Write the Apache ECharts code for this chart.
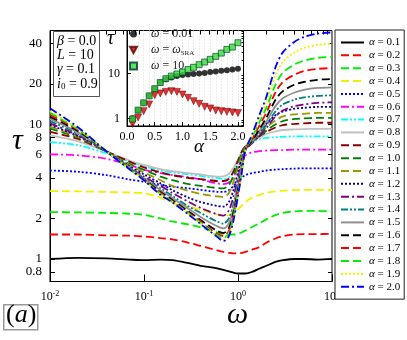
<!DOCTYPE html>
<html>
<head>
<meta charset="utf-8">
<script src="https://cdn.jsdelivr.net/npm/echarts@6/dist/echarts.min.js"></script>
<style>
  html, body { margin: 0; padding: 0; background: #fff; }
  #chart { width: 407px; height: 340px; }
</style>
</head>
<body>
<div id="chart"></div>
<script>
const omega = [0.01, 0.02, 0.04, 0.07, 0.1, 0.15, 0.2, 0.3, 0.4, 0.5, 0.6, 0.7, 0.8, 0.9, 1.0, 1.1, 1.2, 1.4, 1.7, 2, 2.5, 3, 4, 5, 7, 10];
const alphas = ['0.1', '0.2', '0.3', '0.4', '0.5', '0.6', '0.7', '0.8', '0.9', '1.0', '1.1', '1.2', '1.3', '1.4', '1.5', '1.6', '1.7', '1.8', '1.9', '2.0'];

// tau(omega) for each alpha
const tauA01 = [1.0, 1.02, 1.01, 0.99, 0.98, 0.99, 0.98, 0.93, 0.89, 0.87, 0.85, 0.83, 0.81, 0.79, 0.78, 0.78, 0.78, 0.80, 0.85, 0.89, 0.95, 0.98, 1.0, 1.0, 0.99, 1.0];
const tauA02 = [1.52, 1.52, 1.50, 1.49, 1.47, 1.43, 1.40, 1.32, 1.25, 1.20, 1.16, 1.13, 1.11, 1.10, 1.10, 1.11, 1.13, 1.17, 1.23, 1.32, 1.42, 1.48, 1.52, 1.53, 1.53, 1.54];
const tauA03 = [2.23, 2.22, 2.20, 2.17, 2.13, 2.0, 1.9, 1.8, 1.72, 1.64, 1.58, 1.54, 1.52, 1.52, 1.54, 1.58, 1.63, 1.72, 1.85, 1.97, 2.12, 2.2, 2.26, 2.28, 2.28, 2.25];
const tauA04 = [3.2, 3.18, 3.15, 3.12, 3.08, 2.85, 2.65, 2.45, 2.32, 2.22, 2.15, 2.1, 2.12, 2.2, 2.33, 2.5, 2.65, 2.85, 3.0, 3.1, 3.18, 3.22, 3.25, 3.27, 3.27, 3.25];
const tauA05 = [4.55, 4.45, 4.2, 3.9, 3.75, 3.55, 3.45, 3.35, 3.27, 3.2, 3.16, 3.15, 3.25, 3.5, 3.8, 4.05, 4.2, 4.35, 4.45, 4.55, 4.62, 4.66, 4.7, 4.72, 4.72, 4.72];
const tauA06 = [6.0, 5.9, 5.55, 5.0, 4.6, 4.35, 4.2, 4.05, 3.9, 3.75, 3.65, 3.6, 3.7, 4.1, 4.8, 5.5, 5.9, 6.2, 6.35, 6.4, 6.45, 6.45, 6.5, 6.5, 6.5, 6.5];
const tauA07 = [7.4, 7.0, 6.1, 5.3, 4.9, 4.55, 4.4, 4.25, 4.15, 4.05, 4.0, 3.95, 4.05, 4.5, 5.3, 6.1, 6.8, 7.4, 7.8, 7.95, 8.05, 8.1, 8.15, 8.15, 8.15, 8.15];
const tauA08 = [8.3, 7.5, 6.3, 5.4, 5.0, 4.65, 4.5, 4.35, 4.25, 4.15, 4.1, 4.12, 4.3, 4.8, 5.5, 6.3, 6.9, 7.5, 8.0, 8.5, 8.9, 9.1, 9.2, 9.25, 9.27, 9.27];
const tauA09 = [8.8, 7.8, 6.3, 5.3, 4.8, 4.4, 4.2, 4.0, 3.92, 3.85, 3.8, 3.8, 3.95, 4.5, 5.4, 6.3, 6.9, 7.5, 8.2, 8.8, 9.5, 9.9, 10.1, 10.2, 10.3, 10.3];
const tauA10 = [9.3, 8.0, 6.3, 5.1, 4.6, 4.1, 3.85, 3.6, 3.5, 3.42, 3.37, 3.35, 3.55, 4.2, 5.1, 6.1, 6.8, 7.4, 8.2, 9.0, 10.0, 10.6, 11.0, 11.1, 11.2, 11.2];
const tauA11 = [9.6, 8.1, 6.3, 5.0, 4.4, 3.85, 3.5, 3.2, 3.05, 2.97, 2.92, 2.9, 3.1, 3.8, 4.8, 5.9, 6.7, 7.4, 8.5, 9.5, 10.7, 11.5, 11.9, 12.0, 12.2, 12.2];
const tauA12 = [9.9, 8.2, 6.3, 4.9, 4.25, 3.65, 3.25, 2.85, 2.65, 2.55, 2.48, 2.45, 2.65, 3.3, 4.4, 5.6, 6.6, 7.5, 8.8, 10.1, 11.7, 12.5, 13.1, 13.3, 13.5, 13.5];
const tauA13 = [10.2, 8.3, 6.3, 4.8, 4.1, 3.5, 3.1, 2.65, 2.4, 2.25, 2.15, 2.1, 2.3, 2.95, 4.0, 5.3, 6.5, 7.2, 8.3, 9.4, 11.5, 12.7, 13.7, 14.1, 14.5, 14.6];
const tauA14 = [10.6, 8.5, 6.3, 4.8, 4.0, 3.35, 2.95, 2.45, 2.2, 2.02, 1.9, 1.83, 2.0, 2.6, 3.7, 5.0, 6.5, 7.3, 8.6, 9.9, 12.5, 14.1, 15.3, 15.9, 16.3, 16.5];
const tauA15 = [11.0, 8.7, 6.3, 4.75, 3.95, 3.25, 2.85, 2.35, 2.05, 1.87, 1.75, 1.69, 1.85, 2.4, 3.5, 4.9, 6.5, 7.4, 9.0, 10.5, 13.7, 15.7, 17.3, 18.1, 18.7, 18.9];
const tauA16 = [11.4, 8.9, 6.3, 4.7, 3.9, 3.15, 2.75, 2.25, 1.95, 1.75, 1.62, 1.56, 1.7, 2.25, 3.3, 4.7, 6.5, 7.5, 9.3, 11.2, 15.2, 17.7, 19.8, 20.7, 21.5, 21.8];
const tauA17 = [11.8, 9.1, 6.3, 4.7, 3.88, 3.1, 2.7, 2.2, 1.9, 1.68, 1.54, 1.48, 1.62, 2.15, 3.15, 4.6, 6.5, 7.7, 9.9, 12.2, 17.3, 20.7, 23.5, 24.9, 25.9, 26.3];
const tauA18 = [12.2, 9.2, 6.3, 4.68, 3.86, 3.05, 2.67, 2.17, 1.86, 1.64, 1.5, 1.43, 1.57, 2.07, 3.05, 4.55, 6.5, 7.9, 10.5, 13.3, 19.7, 24.3, 28.0, 29.8, 31.3, 31.8];
const tauA19 = [12.6, 9.3, 6.3, 4.66, 3.85, 3.02, 2.65, 2.15, 1.84, 1.62, 1.47, 1.39, 1.52, 2.02, 3.0, 4.5, 6.5, 8.1, 11.2, 14.7, 23.1, 29.3, 34.4, 37.0, 39.1, 39.8];
const tauA20 = [13.2, 9.5, 6.3, 4.65, 3.84, 3.0, 2.64, 2.13, 1.82, 1.61, 1.46, 1.36, 1.48, 1.97, 2.95, 4.45, 6.5, 8.3, 11.9, 16.0, 26.5, 34.4, 41.2, 44.7, 47.4, 48.4];
const tauCurves = [tauA01, tauA02, tauA03, tauA04, tauA05, tauA06, tauA07, tauA08, tauA09, tauA10,
                   tauA11, tauA12, tauA13, tauA14, tauA15, tauA16, tauA17, tauA18, tauA19, tauA20];

// inset: tau vs alpha
const alphaInset = [0.1, 0.2, 0.3, 0.4, 0.5, 0.6, 0.7, 0.8, 0.9, 1.0, 1.1, 1.2, 1.3, 1.4, 1.5, 1.6, 1.7, 1.8, 1.9, 2.0];
const tauLow = [1.0, 1.52, 2.23, 3.2, 4.6, 6.3, 7.5, 8.2, 8.8, 9.3, 9.6, 9.8, 10.0, 10.3, 10.8, 11.1, 11.5, 11.8, 12.3, 12.9];
const tauSRA = [0.75, 1.05, 1.45, 2.05, 3.3, 3.6, 3.9, 4.05, 3.9, 3.4, 2.87, 2.42, 2.11, 1.81, 1.67, 1.5, 1.45, 1.4, 1.36, 1.31];
const tauHigh = [0.97, 1.53, 2.22, 3.18, 4.6, 6.3, 7.7, 8.8, 9.8, 10.8, 12.3, 13.8, 15.8, 18.1, 20.8, 24.2, 28.7, 34.7, 39, 48.9];

// tick labels
const xTicks = [0.01, 0.1, 1, 10];
const xMinor = [0.02, 0.03, 0.04, 0.05, 0.06, 0.07, 0.08, 0.09, 0.2, 0.3, 0.4, 0.5, 0.6, 0.7, 0.8, 0.9, 2, 3, 4, 5, 6, 7, 8, 9];
const yTicks = [0.8, 1, 2, 4, 6, 8, 10, 20, 40];
const insetXTicks = [0, 0.5, 1.0, 1.5, 2.0];
const insetXLabels = ['0.0', '0.5', '1.0', '1.5', '2.0'];
const insetYTicks = [1, 10];
const insetYMinor = [0.7, 0.8, 0.9, 2, 3, 4, 5, 6, 7, 8, 9, 20, 30, 40, 50, 60, 70, 80, 90];

// line styles
const lineColors = ['#000000', '#ff0000', '#00ee00', '#f0f000', '#0000ff', '#ff00ff', '#00ffff', '#c0c0c0', '#8b0000', '#008000',
                    '#999900', '#0000a0', '#800080', '#008080', '#909090', '#000000', '#ff0000', '#00ee00', '#f0f000', '#0000ff'];
const dash = [8, 4], dot = [2, 2], dashDot = [8, 3, 2, 3], dashDotDot = [7, 2, 2, 2, 2, 2];
const lineTypes = ['solid', dash, dash, dash, dot, dashDot, dashDotDot, 'solid', dash, dash,
                   dash, dot, dashDot, dashDotDot, 'solid', dash, dash, dash, dot, dashDot];

const serif = '"Liberation Serif", "DejaVu Serif", serif';
const chart = echarts.init(document.getElementById('chart'));

let series = [];
for (let k = 0; k < alphas.length; k++) {
  series.push({
    name: alphas[k],
    type: 'line',
    xAxisIndex: 0,
    yAxisIndex: 0,
    symbol: 'none',
    smooth: 0.3,
    data: omega.map((w, i) => [w, tauCurves[k][i]]),
    lineStyle: { color: lineColors[k], width: 1.8, type: lineTypes[k] },
    itemStyle: { color: lineColors[k] },
    z: 3
  });
}
series.push({
  name: 'low', type: 'scatter', xAxisIndex: 2, yAxisIndex: 2,
  symbol: 'circle', symbolSize: 6,
  data: alphaInset.map((a, i) => [a, tauLow[i]]),
  itemStyle: { color: '#000' }, z: 5
});
series.push({
  name: 'sra', type: 'scatter', xAxisIndex: 2, yAxisIndex: 2,
  symbol: 'path://M0,0 L10,0 L5,9 Z', symbolSize: 7,
  data: alphaInset.map((a, i) => [a, tauSRA[i]]),
  itemStyle: { color: '#e00000', borderColor: '#500', borderWidth: 0.6 }, z: 5
});
series.push({
  name: 'high', type: 'scatter', xAxisIndex: 2, yAxisIndex: 2,
  symbol: 'rect', symbolSize: 6,
  data: alphaInset.map((a, i) => [a, tauHigh[i]]),
  itemStyle: { color: '#33dd33', borderColor: '#033', borderWidth: 0.8 }, z: 6
});

const insetNames = { low: '{i|ω} = 0.01', sra: '{i|ω} = {i|ω}{s|SRA}', high: '{i|ω} = 10' };

let option = {
  animation: false,
  backgroundColor: '#fff',
  grid: [
    { left: 50, top: 30.5, width: 282, height: 251, show: true, borderColor: '#000', borderWidth: 1 },
    { left: 127, top: 30.5, width: 116.5, height: 95.5, show: true, borderColor: '#000', borderWidth: 1, backgroundColor: '#fff' }
  ],
  legend: [
    {
      data: alphas,
      orient: 'vertical',
      left: 335, top: 30,
      padding: [7, 4, 7, 5],
      itemWidth: 23, itemHeight: 11, itemGap: 1.85,
      itemStyle: { opacity: 0 },
      backgroundColor: '#fff', borderColor: '#222', borderWidth: 1,
      formatter: n => '{i|α} = ' + n,
      textStyle: { fontFamily: serif, fontSize: 11, color: '#000', lineHeight: 11,
        rich: { i: { fontStyle: 'italic', fontFamily: serif, fontSize: 11 } } }
    },
    {
      data: ['low', 'sra', 'high'],
      orient: 'vertical',
      left: 129, top: 27,
      padding: 0,
      itemWidth: 7, itemHeight: 7, itemGap: 2,
      formatter: n => insetNames[n],
      textStyle: { fontFamily: serif, fontSize: 12, color: '#222', lineHeight: 14, padding: [0, 0, 0, 9],
        rich: { i: { fontStyle: 'italic', fontFamily: serif, fontSize: 12, color: '#222', lineHeight: 14 },
                s: { fontFamily: serif, fontSize: 7, color: '#222', lineHeight: 14, padding: [6, 0, 0, 0] } } }
    }
  ],
  xAxis: [
    {
      type: 'log', gridIndex: 0, min: 0.01, max: 10,
      axisLine: { lineStyle: { color: '#000', width: 1 } },
      axisTick: { inside: true, length: 7, customValues: xTicks, lineStyle: { color: '#000' } },
      axisLabel: {
        customValues: xTicks, margin: 8,
        formatter: v => '{b|10}{s|' + Math.round(Math.log10(v)) + '}',
        rich: { b: { fontFamily: serif, fontSize: 12, color: '#000' },
                s: { fontFamily: serif, fontSize: 8, color: '#000', padding: [0, 0, 7, 0] } }
      },
      splitLine: { show: false }
    },
    {
      type: 'log', gridIndex: 0, min: 0.01, max: 10,
      axisLine: { show: false },
      axisTick: { inside: true, length: 4, customValues: xMinor, lineStyle: { color: '#000' } },
      axisLabel: { show: false },
      splitLine: { show: false }
    },
    {
      type: 'value', gridIndex: 1, min: 0, max: 2.1,
      axisLine: { lineStyle: { color: '#000' } },
      axisTick: { inside: true, length: 4, customValues: insetXTicks, lineStyle: { color: '#000' } },
      minorTick: { show: true, splitNumber: 5, length: 2, lineStyle: { color: '#000' } },
      minorSplitLine: { show: true, lineStyle: { color: '#d8d8d8', type: [1, 2] } },
      splitLine: { show: true, lineStyle: { color: '#cfcfcf', type: [1, 2] } },
      interval: 0.5,
      axisLabel: { customValues: insetXTicks, margin: 5,
        formatter: v => insetXLabels[Math.round(v * 2)],
        fontFamily: serif, fontSize: 12, color: '#000' }
    }
  ],
  yAxis: [
    {
      type: 'log', gridIndex: 0, min: 0.68, max: 50,
      axisLine: { lineStyle: { color: '#000' } },
      axisTick: { inside: true, length: 5, customValues: yTicks, lineStyle: { color: '#000' } },
      axisLabel: { customValues: yTicks, margin: 8, fontFamily: serif, fontSize: 13, color: '#000' },
      splitLine: { show: false }
    },
    {
      type: 'log', gridIndex: 0, min: 0.68, max: 50, position: 'right',
      axisLine: { show: false },
      axisTick: { inside: true, length: 4, customValues: yTicks, lineStyle: { color: '#000' } },
      axisLabel: { show: false },
      splitLine: { show: false }
    },
    {
      type: 'log', gridIndex: 1, min: 0.675, max: 91.7,
      axisLine: { lineStyle: { color: '#000' } },
      axisTick: { inside: true, length: 4, customValues: insetYTicks, lineStyle: { color: '#000' } },
      axisLabel: { customValues: insetYTicks, margin: 7, fontFamily: serif, fontSize: 12, color: '#000' },
      splitLine: { show: false }
    },
    {
      type: 'log', gridIndex: 1, min: 0.675, max: 91.7,
      axisLine: { show: false },
      axisTick: { inside: true, length: 2, customValues: insetYMinor, lineStyle: { color: '#000' } },
      axisLabel: { show: false },
      splitLine: { show: false }
    }
  ],
  graphic: [
    // parameter box
    { type: 'rect', left: 53, top: 31, shape: { width: 46, height: 65 }, style: { fill: '#fff', stroke: '#555', lineWidth: 1 }, z: 10 },
    { type: 'text', left: 57, top: 34, z: 11, style: { text: '{i|β} = 0.0', font: '14px ' + serif, fill: '#000', rich: { i: { fontStyle: 'italic', fontFamily: serif, fontSize: 14 } } } },
    { type: 'text', left: 57, top: 48, z: 11, style: { text: '{i|L} = 10', font: '14px ' + serif, fill: '#000', rich: { i: { fontStyle: 'italic', fontFamily: serif, fontSize: 14 } } } },
    { type: 'text', left: 57, top: 62, z: 11, style: { text: '{i|γ} = 0.1', font: '14px ' + serif, fill: '#000', rich: { i: { fontStyle: 'italic', fontFamily: serif, fontSize: 14 } } } },
    { type: 'text', left: 57, top: 77, z: 11, style: { text: '{i|i}{s|0} = 0.9', font: '14px ' + serif, fill: '#000', rich: { i: { fontStyle: 'italic', fontFamily: serif, fontSize: 14 }, s: { fontFamily: serif, fontSize: 9, padding: [6, 0, 0, 0] } } } },
    // (a) label
    { type: 'rect', left: 3, top: 304, shape: { width: 34, height: 25 }, style: { fill: '#fff', stroke: '#999', lineWidth: 1.5 }, z: 10 },
    { type: 'text', left: 6, top: 302, z: 11, style: { text: '({i|a})', font: '26px ' + serif, fill: '#000', rich: { i: { fontStyle: 'italic', fontFamily: serif, fontSize: 26 } } } },
    // axis titles
    { type: 'text', left: 12, top: 126, z: 11, style: { text: 'τ', font: 'italic 30px ' + serif, fill: '#000' } },
    { type: 'text', left: 227, top: 300, z: 11, style: { text: 'ω', font: 'italic 30px ' + serif, fill: '#000' } },
    { type: 'text', left: 107, top: 29, z: 11, style: { text: 'τ', font: 'italic 20px ' + serif, fill: '#000' } },
    { type: 'text', left: 194, top: 137, z: 11, style: { text: 'α', font: 'italic 19px ' + serif, fill: '#000' } }
  ],
  series: series
};
chart.setOption(option);
</script>
</body>
</html>
